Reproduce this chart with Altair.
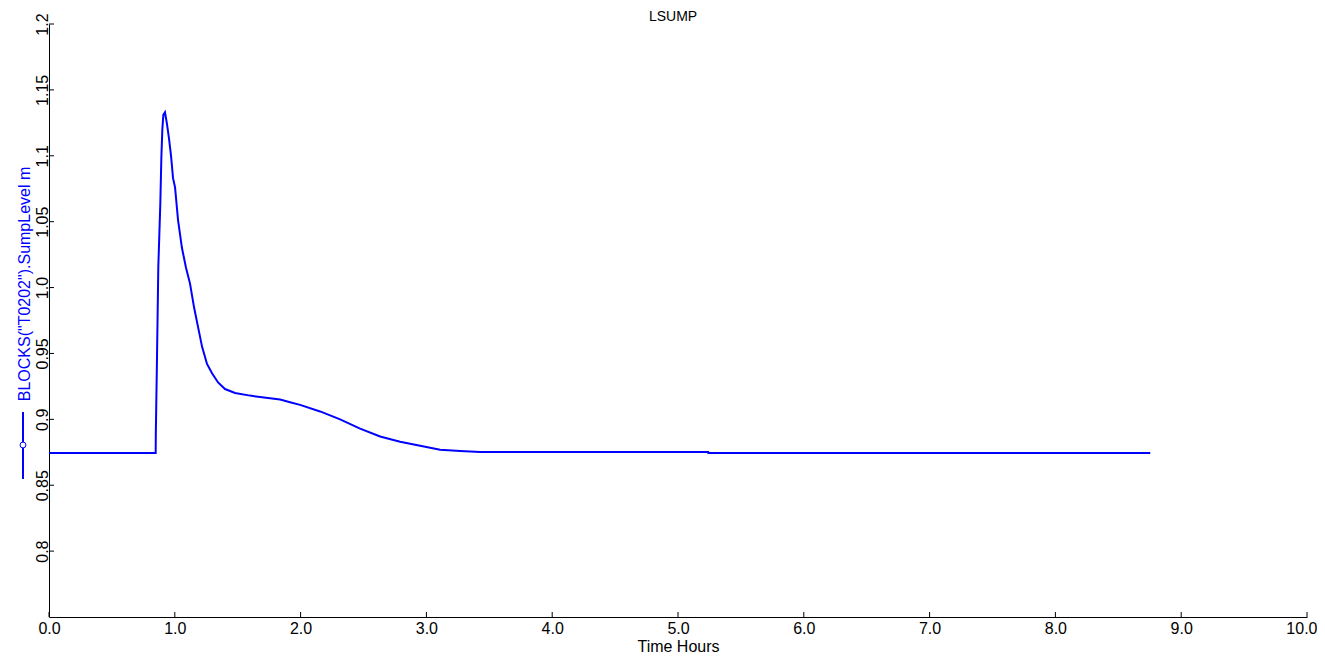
import altair as alt
import pandas as pd

# ---- data ----
time_h = [0.0, 0.848, 0.849, 0.859, 0.869, 0.877, 0.885, 0.893, 0.901, 0.909,
          0.922, 0.938, 0.954, 0.970, 0.986, 1.002, 1.026, 1.057, 1.089, 1.121,
          1.153, 1.185, 1.217, 1.256, 1.296, 1.344, 1.399, 1.479, 1.598, 1.837,
          1.916, 1.996, 2.155, 2.314, 2.473, 2.632, 2.791, 2.950, 3.109, 3.268,
          3.427, 5.240, 5.241, 8.754]
level_m = [0.8745, 0.8745, 0.8879, 0.950, 1.016, 1.040, 1.064, 1.098, 1.120, 1.131,
           1.133, 1.124, 1.113, 1.100, 1.083, 1.076, 1.051, 1.030, 1.015, 1.003,
           0.985, 0.970, 0.955, 0.942, 0.935, 0.928, 0.923, 0.920, 0.918, 0.915,
           0.913, 0.911, 0.906, 0.900, 0.893, 0.887, 0.883, 0.880, 0.877, 0.876,
           0.8752, 0.8752, 0.8745, 0.8745]
x_ticks = [0, 1, 2, 3, 4, 5, 6, 7, 8, 9, 10]
y_ticks = [0.8, 0.85, 0.9, 0.95, 1.0, 1.05, 1.1, 1.15, 1.2]
chart_title = "LSUMP"
x_title = "Time Hours"
y_title = 'BLOCKS("T0202").SumpLevel m'

W, H = 1258, 593
FONT = "Liberation Sans"
BLUE = "#0000ff"

df = pd.DataFrame({"time": time_h, "level": level_m})
xscale = alt.Scale(domain=[0, 10], nice=False, zero=False)
yscale = alt.Scale(domain=[0.75, 1.2], nice=False, zero=False)

line = alt.Chart(df).mark_line(color=BLUE, strokeWidth=2, clip=True).encode(
    x=alt.X("time:Q", scale=xscale,
            axis=alt.Axis(title=x_title, values=x_ticks, format=".1f", ticks=False,
                          grid=False, domainColor="black", labelPadding=3,
                          titlePadding=2, labelFontSize=16, titleFontSize=16,
                          labelFont=FONT, titleFont=FONT, labelColor="black",
                          titleColor="black", titleFontWeight="normal",
                          labelFlush=False,
                          labelAlign={"condition": {"test": "datum.value == 10", "value": "right"},
                                      "value": "center"},
                          labelOffset={"condition": {"test": "datum.value == 10", "value": 10},
                                       "value": 0})),
    y=alt.Y("level:Q", scale=yscale,
            axis=alt.Axis(title=None, values=y_ticks, ticks=False, grid=False,
                          domainColor="black", labelAngle=-90, labelAlign="center",
                          labelBaseline="alphabetic", labelPadding=2,
                          labelFontSize=16, labelFont=FONT, labelColor="black",
                          labelFlush=False,
                          labelExpr="datum.value == 1 ? '1.0' : format(datum.value, '.2~f')")),
)

xt = alt.Chart(pd.DataFrame({"time": x_ticks})).mark_rule(color="black", strokeWidth=1).encode(
    x=alt.X("time:Q", scale=xscale),
    y=alt.value(H), y2=alt.value(H - 5),
)
yt = alt.Chart(pd.DataFrame({"level": y_ticks})).mark_rule(color="black", strokeWidth=1).encode(
    y=alt.Y("level:Q", scale=yscale),
    x=alt.value(0), x2=alt.value(5),
)

title_txt = alt.Chart(pd.DataFrame({"t": [chart_title]})).mark_text(
    font=FONT, fontSize=14, color="black", align="center", baseline="alphabetic"
).encode(x=alt.value(624), y=alt.value(-3), text="t:N")

ytitle_txt = alt.Chart(pd.DataFrame({"t": [y_title]})).mark_text(
    font=FONT, fontSize=16, color=BLUE, align="center", baseline="alphabetic", angle=270
).encode(x=alt.value(-19), y=alt.value(260), text="t:N")

sym_line = alt.Chart(pd.DataFrame({"t": [0]})).mark_rule(color=BLUE, strokeWidth=2).encode(
    x=alt.value(-26), y=alt.value(388), y2=alt.value(455)
)
sym_pt = alt.Chart(pd.DataFrame({"t": [0]})).mark_point(
    shape="circle", size=35, filled=True, fill="white", stroke=BLUE, strokeWidth=1, opacity=1
).encode(x=alt.value(-26), y=alt.value(421))

chart = alt.layer(line, xt, yt, title_txt, ytitle_txt, sym_line, sym_pt).properties(
    width=W, height=H,
    autosize=alt.AutoSizeParams(type="none"),
    padding={"left": 41, "top": 16, "right": 10, "bottom": 40},
).configure_view(stroke=None).configure_axis(domainWidth=1)

chart.save("out.html", embed_options={"renderer": "svg", "actions": False})
